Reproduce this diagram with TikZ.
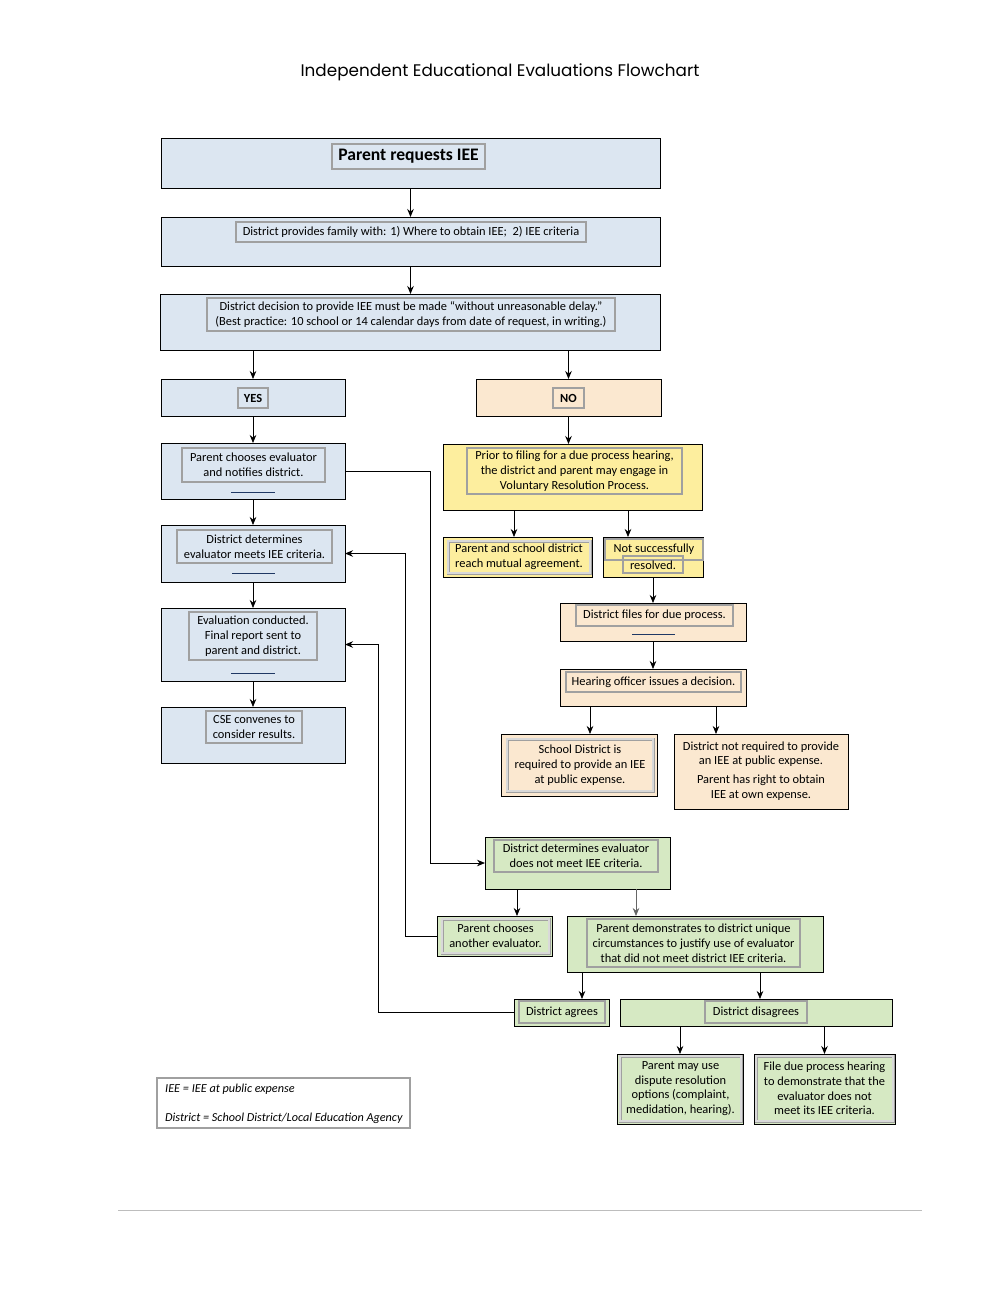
\documentclass[tikz,border=0pt]{standalone}
\usepackage{fontspec}
\setmainfont{Carlito}
\newfontfamily\titlefont{Poppins}
\usetikzlibrary{arrows.meta,calc}
\definecolor{cblue}{HTML}{DCE6F1}
\definecolor{cbeige}{HTML}{FBE8D0}
\definecolor{cyellow}{HTML}{FDEE9E}
\definecolor{cgreen}{HTML}{D6E9C3}
\definecolor{cgray}{HTML}{A0A0A0}
\definecolor{cnavy}{HTML}{1F3864}
\newcommand\bodyfont{\fontsize{12.4}{14.8}\selectfont}
\begin{document}
\begin{tikzpicture}[x=1pt,y=-1pt,
  box/.style={draw=black, line width=0.8pt, inner sep=0pt, outer sep=0pt},
  bluebox/.style={box, fill=cblue},
  beigebox/.style={box, fill=cbeige},
  yelbox/.style={box, fill=cyellow},
  grnbox/.style={box, fill=cgreen},
  tb/.style={draw=cgray, line width=1.6pt, inner sep=0pt, outer sep=0pt, align=center, font=\bodyfont},
  dtb/.style={tb, line width=0.9pt, double=cgray!40, double distance=1.2pt},
  plain/.style={inner sep=0pt, align=center, font=\bodyfont},
  arr/.style={-{Stealth[length=8pt,width=6.5pt]}, line width=0.8pt},
  navyline/.style={draw=cnavy, line width=0.9pt}
]
\useasboundingbox (0,0) rectangle (1000,1294);

% title
\node[font=\titlefont\fontsize{16.8}{19}\selectfont] (title) at (500,72) {Independent Educational Evaluations Flowchart};

% top boxes
\node[bluebox, minimum width=499, minimum height=50] (b1) at (410.5,163) {};
\node[tb, minimum width=153, minimum height=25, font=\fontsize{17.6}{19}\selectfont\bfseries] (b1t) at (408.5,156.5) {Parent requests IEE};
\node[bluebox, minimum width=499, minimum height=49] (b2) at (410.5,241.5) {};
\node[tb, minimum width=350, minimum height=20] (b2t) at (411,232) {District provides family with: 1) Where to obtain IEE;\ \ 2) IEE criteria};
\node[bluebox, minimum width=500, minimum height=56] (b3) at (410,322) {};
\node[tb, minimum width=408, minimum height=33] (b3t) at (411,314.5) {District decision to provide IEE must be made “without unreasonable delay.”\\(Best practice: 10 school or 14 calendar days from date of request, in writing.)};

% YES column
\node[bluebox, minimum width=184, minimum height=37] (yes) at (253,397.5) {};
\node[tb, minimum width=30, minimum height=20, font=\bodyfont\bfseries] (yest) at (253,398) {YES};
\node[bluebox, minimum width=184, minimum height=56] (pc) at (253,471) {};
\node[tb, minimum width=143, minimum height=34] (pct) at (253.5,465) {Parent chooses evaluator\\and notifies district.};
\draw[navyline] (231,492) -- (275,492);
\node[bluebox, minimum width=184, minimum height=57] (dm) at (253,553.5) {};
\node[tb, minimum width=155, minimum height=33] (dmt) at (254.5,546.5) {District determines\\evaluator meets IEE criteria.};
\draw[navyline] (232,573) -- (275,573);
\node[bluebox, minimum width=184, minimum height=73] (ev) at (253,644.5) {};
\node[tb, minimum width=128, minimum height=48] (evt) at (253,636) {Evaluation conducted.\\Final report sent to\\parent and district.};
\draw[navyline] (231,673) -- (275,673);
\node[bluebox, minimum width=184, minimum height=56] (cse) at (253,735) {};
\node[tb, minimum width=96, minimum height=32] (cset) at (254,727) {CSE convenes to\\consider results.};

% NO column
\node[beigebox, minimum width=185, minimum height=37] (no) at (568.5,397.5) {};
\node[tb, minimum width=31, minimum height=20, font=\bodyfont\bfseries] (not) at (568.5,398) {NO};
\node[yelbox, minimum width=259, minimum height=66] (vr) at (572.5,477) {};
\node[tb, minimum width=215, minimum height=46] (vrt) at (574.5,471) {Prior to filing for a due process hearing,\\the district and parent may engage in\\Voluntary Resolution Process.};
\node[yelbox, minimum width=149, minimum height=40] (ma) at (517.5,557) {};
\node[dtb, minimum width=142, minimum height=32] (mat) at (519,557) {Parent and school district\\reach mutual agreement.};
\node[yelbox, minimum width=100, minimum height=40] (ns) at (653,557) {};
\node[tb, minimum width=98, minimum height=21] (nsa) at (654,549.5) {};
\node[tb, minimum width=60, minimum height=17] (nsb) at (653,564.5) {};
\node[plain] (nsat) at (654,549.5) {Not successfully};
\node[plain] (nsbt) at (653,565) {resolved.};
\node[beigebox, minimum width=186, minimum height=38] (df) at (653,622) {};
\node[tb, minimum width=157, minimum height=21] (dft) at (654.5,615.5) {District files for due process.};
\draw[navyline] (632,634) -- (675,634);
\node[beigebox, minimum width=186, minimum height=37] (ho) at (653,687.5) {};
\node[tb, minimum width=175, minimum height=20] (hot) at (653.5,682) {Hearing officer issues a decision.};
\node[beigebox, minimum width=156, minimum height=62] (sd) at (579,765) {};
\node[dtb, minimum width=146, minimum height=52] (sdt) at (580,765) {School District is\\required to provide an IEE\\at public expense.};
\node[beigebox, minimum width=174, minimum height=75] (nr) at (761,771.5) {};
\node[plain] (nrt) at (761,771) {District not required to provide\\an IEE at public expense.\\[4pt]Parent has right to obtain\\IEE at own expense.};

% green section
\node[grnbox, minimum width=185, minimum height=52] (dn) at (577.5,863) {};
\node[tb, minimum width=164, minimum height=32] (dnt) at (576,856) {District determines evaluator\\does not meet IEE criteria.};
\node[grnbox, minimum width=115, minimum height=40] (pa) at (494.5,936) {};
\node[dtb, minimum width=107, minimum height=34] (pat) at (495.5,936) {Parent chooses\\another evaluator.};
\node[grnbox, minimum width=256, minimum height=56] (pd) at (695,944) {};
\node[tb, minimum width=213, minimum height=48] (pdt) at (693.5,943) {Parent demonstrates to district unique\\circumstances to justify use of evaluator\\that did not meet district IEE criteria.};
\node[grnbox, minimum width=95, minimum height=27] (da) at (561.5,1012.5) {};
\node[tb, minimum width=86, minimum height=22] (dat) at (562,1012) {District agrees};
\node[grnbox, minimum width=272, minimum height=27] (dd) at (756,1012.5) {};
\node[tb, minimum width=102, minimum height=22] (ddt) at (756,1012) {District disagrees};
\node[grnbox, minimum width=126, minimum height=70] (pm) at (680,1089) {};
\node[dtb, minimum width=121, minimum height=65] (pmt) at (680.5,1088.5) {Parent may use\\dispute resolution\\options (complaint,\\medidation, hearing).};
\node[grnbox, minimum width=141, minimum height=70] (fd) at (824.5,1089) {};
\node[dtb, minimum width=137, minimum height=65] (fdt) at (824.5,1088.5) {File due process hearing\\to demonstrate that the\\evaluator does not\\meet its IEE criteria.};

% legend
\node[draw=cgray, line width=1.4pt, minimum width=253, minimum height=50, inner sep=0pt] (leg) at (283.5,1103) {};
\node[anchor=west, inner sep=0pt, font=\fontsize{12.2}{14}\selectfont\itshape] (leg1) at (165,1089) {IEE = IEE at public expense};
\node[anchor=west, inner sep=0pt, font=\fontsize{12.2}{14}\selectfont\itshape] (leg2) at (165,1118) {District = School District/Local Education Agency};

% bottom rule
\coordinate (ruleA) at (118,1210);
\coordinate (ruleB) at (922,1210);
\draw[draw=cgray!70, line width=0.8pt] (ruleA) -- (ruleB);

% arrows
\draw[arr] (b1.south) -- (b1.south |- b2.north);
\draw[arr] (b2.south) -- (b2.south |- b3.north);
\draw[arr] (b3.south -| yes.north) -- (yes.north);
\draw[arr] (b3.south -| no.north) -- (no.north);
\draw[arr] (yes.south) -- (pc.north);
\draw[arr] (pc.south) -- (dm.north);
\draw[arr] (dm.south) -- (ev.north);
\draw[arr] (ev.south) -- (cse.north);
\draw[arr] (no.south) -- (no.south |- vr.north);
\draw[arr] ([xshift=-3.5pt]ma.north |- vr.south) -- ([xshift=-3.5pt]ma.north);
\draw[arr] ([xshift=-25pt]ns.north |- vr.south) -- ([xshift=-25pt]ns.north);
\draw[arr] (ns.south) -- (df.north);
\draw[arr] (df.south) -- (ho.north);
\draw[arr] ([xshift=11pt]sd.north |- ho.south) -- ([xshift=11pt]sd.north);
\draw[arr] ([xshift=-45pt]nr.north |- ho.south) -- ([xshift=-45pt]nr.north);
\draw[arr] ([xshift=22.5pt]pa.north |- dn.south) -- ([xshift=22.5pt]pa.north);
\draw[arr, draw=gray!80!black] ([xshift=-59pt]pd.north |- dn.south) -- ([xshift=-59pt]pd.north);
\draw[arr] ([xshift=20.5pt]da.north |- pd.south) -- ([xshift=20.5pt]da.north);
\draw[arr] ([xshift=4pt]dd.north |- pd.south) -- ([xshift=4pt]dd.north);
\draw[arr] (pm.north |- dd.south) -- (pm.north);
\draw[arr] (fd.north |- dd.south) -- (fd.north);

% routed connectors
\draw[arr] (pc.east) -- ++(85,0) |- (dn.west);
\draw[arr] (pa.west) -- ++(-32,0) |- (dm.east);
\draw[arr] (da.west) -- ++(-136,0) |- (ev.east);
\end{tikzpicture}
\end{document}
